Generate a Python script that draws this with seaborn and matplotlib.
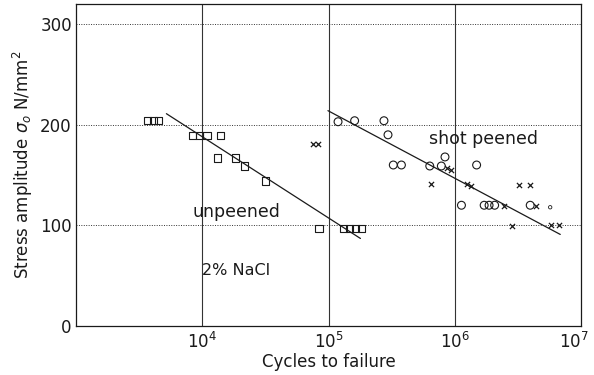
import numpy as np
import pandas as pd
import matplotlib
matplotlib.use("Agg")
import matplotlib.pyplot as plt
import matplotlib.transforms as mtransforms
import seaborn as sns
from matplotlib.ticker import LogLocator, NullFormatter, MultipleLocator

# ---- data ----
unpeened_N = [3.7e3, 4.1e3, 4.5e3, 8.4e3, 9.5e3, 1.09e4, 1.39e4, 1.32e4, 1.83e4,
              2.17e4, 3.16e4, 8.4e4, 1.32e5, 1.47e5, 1.64e5, 1.83e5]
unpeened_S = [204, 204, 204, 189, 189, 189, 189, 167, 167, 159, 144, 97, 97, 97, 97, 97]

peened_N = [1.19e5, 1.61e5, 2.75e5, 2.96e5, 3.26e5, 3.78e5, 6.34e5, 7.83e5, 8.37e5,
            1.49e6, 1.13e6, 1.71e6, 1.87e6, 2.07e6, 3.96e6]
peened_S = [203, 204, 204, 190, 160, 160, 159, 159, 168, 160, 120, 120, 120, 120, 120]

small_N = [5.7e6]
small_S = [118]

cross_N = [7.6e4, 8.3e4, 8.75e5, 9.3e5, 6.45e5, 1.26e6, 1.35e6, 3.24e6, 3.98e6,
           2.45e6, 4.42e6, 2.82e6, 5.78e6, 6.73e6]
cross_S = [181, 181, 157, 155, 141, 141, 139, 140, 140, 119, 119, 99, 100, 100]

fit_unpeened_N = [5.2e3, 1.79e5]
fit_unpeened_S = [211, 87]
fit_peened_N = [9.9e4, 6.85e6]
fit_peened_S = [214, 91]

x_ticks = [1e4, 1e5, 1e6, 1e7]
y_ticks = [0, 100, 200, 300]

# ---- plotting ----
sns.set_style("white")
plt.rcParams['font.family'] = ['DejaVu Sans']
ink = '#1a1a1a'

fig = plt.figure(figsize=(5.94, 3.75), dpi=100)
ax = fig.add_axes([76/594, 1-326/375, (581-76)/594, (326-4)/375])

ax.set_xscale('log')
ax.set_xlim(1e3, 1e7)
ax.set_ylim(0, 320)

# grid
for yv in [100, 200, 300]:
    ax.axhline(yv, color='#333333', lw=0.7, ls=(0, (1, 1.5)), zorder=0)
for xv in [1e4, 1e5, 1e6]:
    ax.axvline(xv, color='#333333', lw=0.8, zorder=0)

sns.lineplot(x=fit_unpeened_N, y=fit_unpeened_S, ax=ax, color=ink, lw=0.9)
sns.lineplot(x=fit_peened_N, y=fit_peened_S, ax=ax, color=ink, lw=0.9)

sns.scatterplot(x=unpeened_N, y=unpeened_S, ax=ax, marker='s', s=28,
                facecolor='none', edgecolor=ink, linewidth=0.8, zorder=3)
sns.scatterplot(x=peened_N, y=peened_S, ax=ax, marker='o', s=32,
                facecolor='none', edgecolor=ink, linewidth=0.8, zorder=3)
sns.scatterplot(x=small_N, y=small_S, ax=ax, marker='o', s=6,
                facecolor='none', edgecolor=ink, linewidth=0.6, zorder=3)
sns.scatterplot(x=cross_N, y=cross_S, ax=ax, marker='x', s=14,
                color=ink, linewidth=0.9, zorder=3)

ax.text(1.69e6, 186, 'shot peened', ha='center', va='center', fontsize=12.5, color=ink)
ax.text(1.86e4, 113, 'unpeened', ha='center', va='center', fontsize=12.5, color=ink)
ax.text(1.86e4, 55, '2% NaCl', ha='center', va='center', fontsize=11.5, color=ink)

ax.set_xticks(x_ticks)
ax.xaxis.set_minor_locator(LogLocator(base=10, subs=np.arange(2, 10), numticks=20))
ax.xaxis.set_minor_formatter(NullFormatter())
ax.set_yticks(y_ticks)
ax.yaxis.set_minor_locator(MultipleLocator(20))

ax.tick_params(axis='both', which='major', direction='in', length=0, labelsize=12,
               colors=ink, pad=3)
ax.tick_params(axis='both', which='minor', direction='in', length=3, color=ink, width=0.6)
ax.tick_params(axis='x', which='major', pad=4)

for s in ax.spines.values():
    s.set_color(ink)
    s.set_linewidth(0.9)

ax.set_xlabel('Cycles to failure', fontsize=12, color=ink, labelpad=1)
ax.set_ylabel(r'Stress amplitude $\sigma_o$ N/mm$^2$', fontsize=12, color=ink, labelpad=4)

# keep the 10^7 label inside the canvas
fig.canvas.draw()
last = ax.get_xticklabels()[-1]
last.set_transform(last.get_transform() +
                   mtransforms.ScaledTranslation(-7/100, 0, fig.dpi_scale_trans))

fig.savefig('out.png', dpi=100)
